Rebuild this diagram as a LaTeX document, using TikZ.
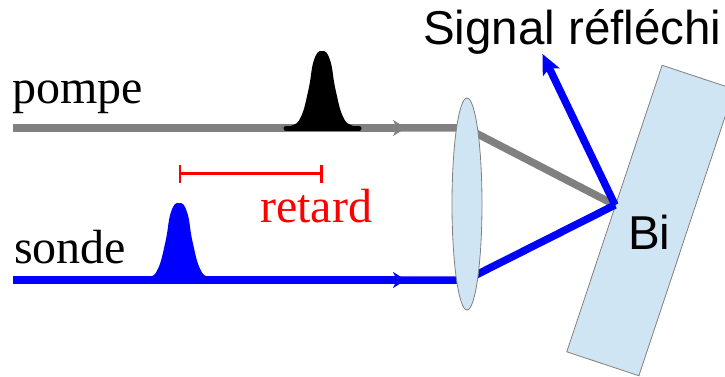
\documentclass[tikz,border=0pt]{standalone}
\usepackage{fontspec}
\setmainfont{Liberation Serif}
\newfontfamily\arialfont{Liberation Sans}
\usetikzlibrary{arrows.meta,shapes.geometric}
\definecolor{optic}{HTML}{CFE5F4}
\definecolor{opticedge}{HTML}{808080}
\newcommand{\pulseshape}{plot[smooth,tension=0.8] coordinates {(-40,0) (-30,-2.5) (-21,-11.3) (-13.5,-38.5) (-8,-68) (0,-77) (8,-68) (13.5,-38.5) (21,-11.3) (30,-2.5) (40,0)} -- cycle}
\tikzset{
  x=1pt,y=-1pt,
  beam/.style={line width=7.5pt},
  midtip/.style={-{Stealth[length=13pt,width=16pt,inset=4pt]}},
  serifl/.style={inner sep=0pt,anchor=base west,font=\fontsize{48}{50}\selectfont},
  sansl/.style={inner sep=0pt,anchor=base west,font=\arialfont\fontsize{47.5}{50}\selectfont},
  optics/.style={fill=optic,draw=opticedge,line width=0.8pt,inner sep=0pt},
  delaybar/.style={draw=red,line width=3.6pt},
  delaytick/.style={draw=red,line width=2.7pt},
}
\begin{document}
\begin{tikzpicture}
\useasboundingbox (0,0) rectangle (725,377);
\clip (0,0) rectangle (725,377);
% sample
\node[optics,rectangle,minimum width=76pt,minimum height=302pt,rotate=-18.4] (sample) at (650.5,220.5) {};
% coordinates
\coordinate (pstart) at (13,128);
\coordinate (pmid) at (406,128);
\coordinate (pback) at (398,128);
\coordinate (pkink) at (466,128);
\coordinate (sstart) at (13,280);
\coordinate (smid) at (406,280);
\coordinate (sback) at (398,280);
\coordinate (skink) at (466,280);
\coordinate (focus) at (615,205);
\coordinate (tip) at (542,53);
\coordinate (rl) at (180,173.5);
\coordinate (rr) at (321.7,173.5);
% beams
\draw[beam,draw=opticedge,midtip] (pstart) -- (pmid);
\draw[beam,draw=opticedge,line join=round] (pback) -- (pkink) -- (focus);
\draw[beam,draw=blue,midtip] (sstart) -- (smid);
\draw[beam,draw=blue,line join=round] (sback) -- (skink) -- (focus);
\draw[beam,draw=blue,-{Stealth[length=20pt,width=18pt,inset=4pt,sep=1pt]}] (focus) -- (tip);
% pulses
\begin{scope}[shift={(322,128)}]
\fill[black] \pulseshape;
\end{scope}
\draw[black,line width=5pt,line cap=round] (286,128.5) -- (359,128.5);
\begin{scope}[shift={(179,280)}]
\fill[blue] \pulseshape;
\end{scope}
% lens
\node[optics,ellipse,minimum width=30pt,minimum height=212pt] (lens) at (467,204) {};
% delay bar
\draw[delaybar] (rl) -- (rr);
\draw[delaytick] ([yshift=-9pt]rl) -- ([yshift=9pt]rl);
\draw[delaytick] ([yshift=-9pt]rr) -- ([yshift=9pt]rr);
% labels
\node[serifl] (pompe) at (12,103) {pompe};
\node[serifl] (sonde) at (14,263) {sonde};
\node[serifl,text=red] (retard) at (260,222) {retard};
\node[sansl] (signal) at (423,45) {Signal réfléchi};
\node[sansl] (bi) at (628,249) {Bi};
\end{tikzpicture}
\end{document}
